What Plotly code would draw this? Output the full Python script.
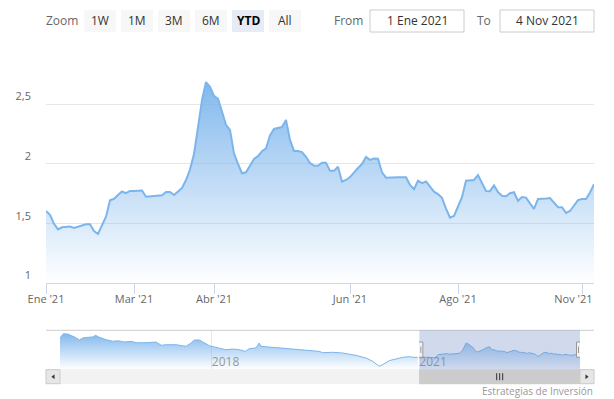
import plotly.graph_objects as go

# ---------------- data ----------------
values = [
    1.606, 1.574, 1.498, 1.452, 1.469, 1.475, 1.475, 1.463, 1.473, 1.483,
    1.494, 1.494, 1.438, 1.413, 1.481, 1.558, 1.696, 1.708, 1.739, 1.769,
    1.756, 1.774, 1.774, 1.777, 1.777, 1.725, 1.729, 1.735, 1.735, 1.737,
    1.765, 1.765, 1.740, 1.770, 1.798, 1.865, 1.953, 2.083, 2.292, 2.535,
    2.686, 2.647, 2.570, 2.546, 2.440, 2.327, 2.285, 2.089, 2.000, 1.922,
    1.930, 1.985, 2.042, 2.065, 2.107, 2.130, 2.240, 2.294, 2.304, 2.309,
    2.369, 2.201, 2.109, 2.109, 2.100, 2.060, 2.008, 1.987, 1.985, 2.011,
    2.011, 1.942, 1.942, 1.977, 1.851, 1.866, 1.890, 1.932, 1.966, 1.999,
    2.059, 2.034, 2.045, 2.043, 1.930, 1.885, 1.888, 1.888, 1.888, 1.888,
    1.888, 1.824, 1.788, 1.859, 1.839, 1.853, 1.810, 1.768, 1.747, 1.716,
    1.625, 1.550, 1.564, 1.646, 1.721, 1.860, 1.866, 1.866, 1.906, 1.845,
    1.774, 1.772, 1.820, 1.765, 1.734, 1.729, 1.755, 1.763, 1.691, 1.723,
    1.718, 1.670, 1.623, 1.707, 1.707, 1.710, 1.714, 1.673, 1.637, 1.637,
    1.590, 1.606, 1.654, 1.697, 1.707, 1.707, 1.761, 1.830,
]
month_ticks = [0, 22, 42, 76, 103, 134]
month_labels = ["Ene '21", "Mar '21", "Abr '21", "Jun '21", "Ago '21", "Nov '21"]
y_ticks = [1, 1.5, 2, 2.5, 3]
y_labels = ["1", "1,5", "2", "2,5", ""]

hist_dates = [
    "2015-10-21", "2015-11-08", "2015-12-01", "2015-12-18", "2016-01-10", "2016-02-01",
    "2016-02-18", "2016-03-16", "2016-04-12", "2016-04-26", "2016-05-17", "2016-06-21",
    "2016-07-26", "2016-08-22", "2016-09-26", "2016-10-31", "2016-11-27", "2017-01-18",
    "2017-03-12", "2017-04-08", "2017-05-05", "2017-06-26", "2017-08-18", "2017-09-13",
    "2017-10-01", "2017-10-27", "2017-11-23", "2017-12-19", "2018-01-23", "2018-03-17",
    "2018-04-21", "2018-05-26", "2018-06-27", "2018-07-18", "2018-08-22", "2018-09-09",
    "2018-09-18", "2018-11-18", "2019-01-28", "2019-04-08", "2019-06-18", "2019-07-23",
    "2019-08-10", "2019-10-02", "2019-11-24", "2020-02-02", "2020-03-27", "2020-05-01",
    "2020-06-05", "2020-06-23", "2020-07-28", "2020-09-02", "2020-10-07", "2020-11-11",
    "2020-11-29", "2020-12-25",
]
hist_values = [
    3.11, 3.48, 3.45, 3.34, 3.17, 2.94, 3.11, 3.17, 3.20, 3.34,
    3.17, 2.97, 2.83, 2.88, 2.77, 2.83, 2.71, 2.71, 2.77, 2.49,
    2.54, 2.54, 2.40, 2.68, 2.94, 2.94, 2.68, 2.46, 2.31, 2.11,
    2.17, 2.11, 1.97, 2.20, 2.26, 2.68, 2.40, 2.31, 2.20, 2.09,
    2.03, 1.97, 1.86, 1.89, 1.83, 1.63, 1.40, 1.12, 0.69, 0.83,
    1.18, 1.35, 1.46, 1.52, 1.46, 1.46,
]
nav_year_ticks = ["2018-01-01"]
nav_year_labels = ["2018"]
current_year_label = "2021"

zoom_buttons = ["1W", "1M", "3M", "6M", "YTD", "All"]
selected_button = "YTD"
from_text = "1 Ene 2021"
to_text = "4 Nov 2021"
credits_text = "Estrategias de Inversión"

# ---------------- layout helpers ----------------
W, H = 614, 399
FONT = "Open Sans"
NB_SP = "\u00a0"


def px(x):
    return x / W


def py(y):
    return 1 - y / H


PL, PR, PT, PB = 46, 594, 44.6, 283.3          # main plot area
NL, NR, NT, NB = 60, 580, 330.3, 369.7          # navigator series area
SPLIT = 419                                      # start of 2021 in navigator
SB_B = 383.7                                     # scrollbar bottom
LINE = "#7cb5ec"
idx = list(range(len(values)))
nav_lo, nav_hi = 0.404, 3.77

# last label is pushed inside the chart like Highcharts' overflow justify
tick_text = month_labels[:-1] + [month_labels[-1] + NB_SP * 6]


def grad(start, stop):
    return dict(type="vertical", start=start, stop=stop,
                colorscale=[[0, "rgba(124,181,236,0)"], [1, "rgba(124,181,236,0.95)"]])


fig = go.Figure()
fig.add_trace(go.Scatter(x=idx, y=values, mode="lines", line=dict(color=LINE, width=2),
                         fill="tozeroy", fillgradient=grad(1, max(values)),
                         hoverinfo="skip", showlegend=False))
fig.add_trace(go.Scatter(x=hist_dates, y=hist_values, xaxis="x2", yaxis="y2", mode="lines",
                         line=dict(color=LINE, width=1), fill="tozeroy",
                         fillgradient=grad(nav_lo, max(hist_values)),
                         hoverinfo="skip", showlegend=False))
fig.add_trace(go.Scatter(x=idx, y=values, xaxis="x3", yaxis="y2", mode="lines",
                         line=dict(color=LINE, width=1), fill="tozeroy",
                         fillgradient=grad(nav_lo, max(hist_values)),
                         hoverinfo="skip", showlegend=False))

shapes = []
annotations = []

# navigator outline, mask, handles
shapes.append(dict(type="line", xref="paper", yref="paper", x0=px(PL), x1=px(PR),
                   y0=py(NT), y1=py(NT), line=dict(color="#cccccc", width=1)))
shapes.append(dict(type="rect", xref="x3", yref="paper", x0=0, x1=len(values) - 1,
                   y0=py(NB), y1=py(NT), fillcolor="rgba(102,133,194,0.3)",
                   line=dict(width=0), layer="above"))
# scrollbar
shapes.append(dict(type="rect", xref="paper", yref="paper", x0=px(PL), x1=px(PR),
                   y0=py(SB_B), y1=py(NB), fillcolor="#f2f2f2", line=dict(color="#f2f2f2", width=1)))
shapes.append(dict(type="rect", xref="x3", yref="paper", x0=0, x1=len(values) - 1,
                   y0=py(SB_B), y1=py(NB), fillcolor="#cccccc", line=dict(color="#cccccc", width=1)))
for (a, b) in [(PL, NL), (NR, PR)]:
    shapes.append(dict(type="rect", xref="paper", yref="paper", x0=px(a), x1=px(b),
                       y0=py(SB_B), y1=py(NB), fillcolor="#e6e6e6", line=dict(color="#cccccc", width=1)))
cy = (NB + SB_B) / 2
lc = (PL + NL) / 2
rc = (NR + PR) / 2
shapes.append(dict(type="path", xref="paper", yref="paper",
                   path=f"M {px(lc-1.5)},{py(cy)} L {px(lc+1.5)},{py(cy-2.5)} L {px(lc+1.5)},{py(cy+2.5)} Z",
                   fillcolor="#333333", line=dict(width=0)))
shapes.append(dict(type="path", xref="paper", yref="paper",
                   path=f"M {px(rc+1.5)},{py(cy)} L {px(rc-1.5)},{py(cy-2.5)} L {px(rc-1.5)},{py(cy+2.5)} Z",
                   fillcolor="#333333", line=dict(width=0)))
mid = (len(values) - 1) / 2
for off in (-3, 0, 3):
    shapes.append(dict(type="line", xref="x3", yref="paper", xsizemode="pixel", xanchor=mid,
                       x0=off, x1=off, y0=py(cy - 3.5), y1=py(cy + 3.5),
                       line=dict(color="#333333", width=1)))
for anchor in (0, len(values) - 1):
    shapes.append(dict(type="rect", xref="x3", yref="paper", xsizemode="pixel", xanchor=anchor,
                       x0=-3.5, x1=3.5, y0=py(357.3), y1=py(342), fillcolor="#f2f2f2",
                       line=dict(color="#999999", width=1), layer="above"))
    for off in (-1.5, 1.5):
        shapes.append(dict(type="line", xref="x3", yref="paper", xsizemode="pixel", xanchor=anchor,
                           x0=off, x1=off, y0=py(353), y1=py(346.5),
                           line=dict(color="#999999", width=1), layer="above"))

# range selector
BT, BB = 10, 32
BY = (BT + BB) / 2
annotations.append(dict(text="Zoom", x=px(62), y=py(BY), xref="paper", yref="paper",
                        showarrow=False, xanchor="center", yanchor="middle",
                        font=dict(family=FONT, size=12, color="#666666")))
for i, lab in enumerate(zoom_buttons):
    x0 = 84 + i * 37
    sel = lab == selected_button
    shapes.append(dict(type="rect", xref="paper", yref="paper", x0=px(x0), x1=px(x0 + 32),
                       y0=py(BB), y1=py(BT), fillcolor="#e6ebf5" if sel else "#f7f7f7",
                       line=dict(width=0)))
    annotations.append(dict(text=f"<b>{lab}</b>" if sel else lab, x=px(x0 + 16), y=py(BY),
                            xref="paper", yref="paper", showarrow=False,
                            xanchor="center", yanchor="middle",
                            font=dict(family=FONT, size=12, color="#000000" if sel else "#333333")))
annotations.append(dict(text="From", x=px(348), y=py(BY), xref="paper", yref="paper",
                        showarrow=False, xanchor="center", yanchor="middle",
                        font=dict(family=FONT, size=12, color="#666666")))
annotations.append(dict(text="To", x=px(484), y=py(BY), xref="paper", yref="paper",
                        showarrow=False, xanchor="center", yanchor="middle",
                        font=dict(family=FONT, size=12, color="#666666")))
for (a, b, t) in [(370, 464, from_text), (500, 594, to_text)]:
    shapes.append(dict(type="rect", xref="paper", yref="paper", x0=px(a), x1=px(b),
                       y0=py(BB), y1=py(BT), fillcolor="#ffffff",
                       line=dict(color="#cccccc", width=1)))
    annotations.append(dict(text=t, x=px((a + b) / 2), y=py(BY), xref="paper", yref="paper",
                            showarrow=False, xanchor="center", yanchor="middle",
                            font=dict(family=FONT, size=12, color="#333333")))

annotations.append(dict(text=credits_text, x=px(595), y=py(391), xref="paper", yref="paper",
                        showarrow=False, xanchor="right", yanchor="middle",
                        font=dict(family=FONT, size=10, color="#999999")))

fig.update_layout(
    template="plotly_white",
    width=W, height=H,
    margin=dict(l=0, r=0, t=0, b=0, pad=0, autoexpand=False),
    paper_bgcolor="white", plot_bgcolor="white",
    separators=",.",
    hovermode=False,
    showlegend=False,
    font=dict(family=FONT, size=11, color="#666666"),
    xaxis=dict(domain=[px(PL), px(PR)], range=[0, len(values) - 1], anchor="y", automargin=False,
               tickmode="array", tickvals=month_ticks, ticktext=tick_text,
               showgrid=False, zeroline=False, showline=True, linecolor="#ccd6eb", linewidth=1,
               ticks="outside", ticklen=10, tickcolor="#ccd6eb", tickwidth=1,
               ticklabelstandoff=-5,
               tickfont=dict(family=FONT, size=11, color="#666666"), fixedrange=True),
    yaxis=dict(domain=[py(PB), py(PT)], range=[1, 3], anchor="x", automargin=False,
               tickmode="array", tickvals=y_ticks, ticktext=y_labels,
               showgrid=True, gridcolor="#e6e6e6", gridwidth=1, zeroline=False, showline=False,
               ticks="", ticklabelposition="outside top", ticklabelstandoff=14,
               tickfont=dict(family=FONT, size=11, color="#666666"), fixedrange=True),
    xaxis2=dict(type="date", domain=[px(NL), px(SPLIT)], range=[hist_dates[0], "2021-01-01"],
                anchor="y2", automargin=False, tickmode="array", tickvals=nav_year_ticks,
                ticktext=nav_year_labels,
                showgrid=True, gridcolor="#e6e6e6", zeroline=False, showline=False, ticks="",
                ticklabelposition="inside right", ticklabelstandoff=-5,
                tickfont=dict(family=FONT, size=12, color="#999999"), fixedrange=True),
    xaxis3=dict(domain=[px(SPLIT), px(NR)], range=[-0.3, len(values) - 1], anchor="y2",
                automargin=False, tickmode="array", tickvals=[0], ticktext=[current_year_label],
                showgrid=True, gridcolor="#e6e6e6", zeroline=False, showline=False, ticks="",
                ticklabelposition="inside right", ticklabelstandoff=-5,
                tickfont=dict(family=FONT, size=12, color="#999999"), fixedrange=True),
    yaxis2=dict(domain=[py(NB), py(NT)], range=[nav_lo, nav_hi], anchor="x2", automargin=False,
                showgrid=False, zeroline=False, showline=False, showticklabels=False,
                ticks="", fixedrange=True),
    shapes=shapes,
    annotations=annotations,
)

fig.write_html("out.html", config={"displayModeBar": False, "staticPlot": True})
